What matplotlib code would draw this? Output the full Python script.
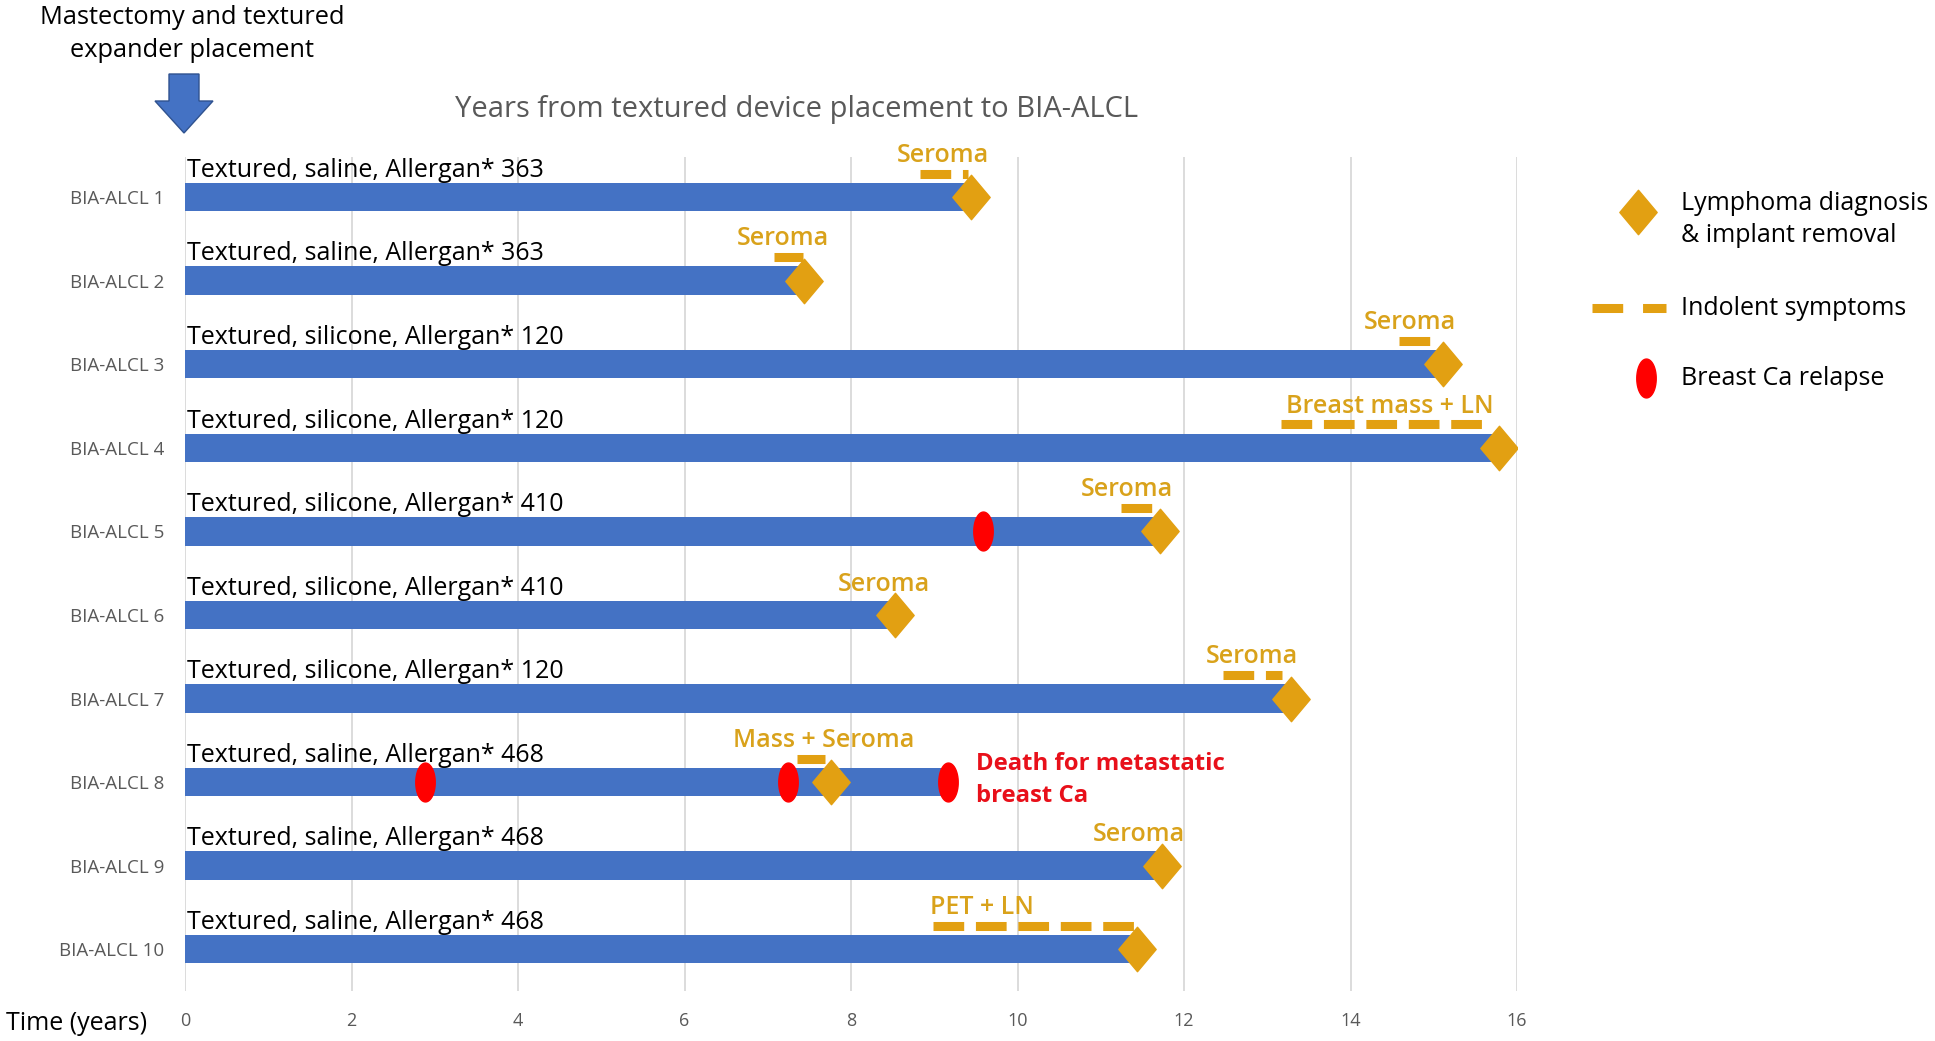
import numpy as np
import matplotlib.pyplot as plt
from matplotlib.path import Path
from matplotlib.patches import Polygon

# dane (lata od wszczepienia)
patients = ["BIA-ALCL %d" % i for i in range(1, 11)]
devices = ["Textured, saline, Allergan* 363", "Textured, saline, Allergan* 363",
           "Textured, silicone, Allergan* 120", "Textured, silicone, Allergan* 120",
           "Textured, silicone, Allergan* 410", "Textured, silicone, Allergan* 410",
           "Textured, silicone, Allergan* 120", "Textured, saline, Allergan* 468",
           "Textured, saline, Allergan* 468", "Textured, saline, Allergan* 468"]
bar_end = [9.44, 7.44, 15.11, 15.78, 11.71, 8.53, 13.28, 9.17, 11.73, 11.43]
diagnosis = [9.44, 7.44, 15.11, 15.78, 11.71, 8.53, 13.28, 7.76, 11.73, 11.43]
symptom_start = [8.83, 7.07, 14.58, 13.17, 11.24, None, 12.47, 7.35, None, 8.98]
symptom_end = [9.41, 7.42, 15.0, 15.7, 11.65, None, 13.18, 7.69, None, 11.4]
symptom_text = ["Seroma", "Seroma", "Seroma", "Breast mass + LN", "Seroma", "Seroma",
                "Seroma", "Mass + Seroma", "Seroma", "PET + LN"]
symptom_text_x = [9.1, 7.18, 14.71, 14.47, 11.31, 8.4, 12.82, 7.67, 11.46, 9.57]
relapse_row = [5, 8, 8, 8]
relapse_time = [9.59, 2.88, 7.24, 9.17]

blue = "#4472C4"
gold = "#E2A012"
gold_txt = "#D9A21B"
red = "#FF0000"
grey = "#595959"
font = "Open Sans"

diamond = Path([(0, 1), (0.84, 0), (0, -1), (-0.84, 0), (0, 1)],
               [Path.MOVETO, Path.LINETO, Path.LINETO, Path.LINETO, Path.CLOSEPOLY])
t = np.linspace(0, 2 * np.pi, 60)
oval = Path(np.column_stack([0.5 * np.cos(t), np.sin(t)]))

fig = plt.figure(figsize=(19.35, 10.41), dpi=100)
W, H = 1935, 1041
ax = fig.add_axes([185 / W, 1 - 991 / H, 1332 / W, (991 - 157) / H])

rows = np.arange(1, 11)
ax.barh(rows, bar_end, height=0.34, color=blue, zorder=2)

for i, r in enumerate(rows):
    ax.text(0.02, r - 0.32, devices[i], fontsize=18, family=font, va="center", ha="left", zorder=4)
    has_dash = symptom_start[i] is not None
    if has_dash:
        ax.plot([symptom_start[i], symptom_end[i]], [r - 0.28, r - 0.28], color=gold, lw=6.5,
                linestyle=(0, (3.4, 1.3)), solid_capstyle="butt", dash_capstyle="butt", zorder=3)
    ax.text(symptom_text_x[i], r - (0.5 if has_dash else 0.37), symptom_text[i], fontsize=18,
            family=font, fontweight="semibold", color=gold_txt, ha="center", va="center", zorder=4)

ax.plot(diagnosis, rows, linestyle="none", marker=diamond, markersize=32, color=gold, zorder=5)
ax.plot(relapse_time, relapse_row, linestyle="none", marker=oval, markersize=28, color=red, zorder=5)

ax.text(9.5, 7.98, "Death for metastatic\nbreast Ca", fontsize=17.2, family=font, fontweight="bold",
        color="#E8101A", ha="left", va="center", linespacing=1.45)

# legenda
ax.plot([17.45], [1.18], marker=diamond, markersize=32, color=gold, clip_on=False)
ax.text(17.97, 1.27, "Lymphoma diagnosis\n& implant removal", fontsize=18, family=font,
        va="center", ha="left", linespacing=1.4)
ax.plot([16.9, 17.79], [2.33, 2.33], color=gold, lw=6.5, linestyle=(0, (3.4, 2.2)),
        dash_capstyle="butt", clip_on=False)
ax.text(17.97, 2.33, "Indolent symptoms", fontsize=18, family=font, va="center", ha="left")
ax.plot([17.55], [3.17], marker=oval, markersize=28, color=red, clip_on=False)
ax.text(17.97, 3.17, "Breast Ca relapse", fontsize=18, family=font, va="center", ha="left")

ax.set_xlim(0, 16)
ax.set_ylim(10.5, 0.52)
ax.set_xticks(np.arange(0, 17, 2))
ax.set_yticks(rows)
ax.set_yticklabels(patients, fontsize=13.5, family=font, color=grey)
ax.set_xticklabels([str(v) for v in range(0, 17, 2)], fontsize=13, family=font, color=grey)
ax.tick_params(axis="x", length=0, pad=15)
ax.tick_params(axis="y", length=0, pad=15)
ax.grid(axis="x", color="#D9D9D9", lw=1.3, zorder=0)
for s in ax.spines.values():
    s.set_visible(False)

fig.text(797 / W, 1 - 110 / H, "Years from textured device placement to BIA-ALCL", fontsize=21,
         family=font, color=grey, ha="center", va="center")
fig.text(192 / W, 1 - 34 / H, "Mastectomy and textured\nexpander placement", fontsize=18.3,
         family=font, ha="center", va="center", linespacing=1.45)
fig.text(6 / W, 1 - 1023 / H, "Time (years)", fontsize=18, family=font, ha="left", va="center")

# strzałka
px = [(169, 74), (199, 74), (199, 101), (213, 101), (184, 133), (155, 101), (169, 101)]
arrow = Polygon([(x / W, 1 - y / H) for x, y in px], closed=True, transform=fig.transFigure,
                facecolor=blue, edgecolor="#2F528F", lw=1)
fig.patches.append(arrow)

plt.savefig("out.png", dpi=100)
plt.close()
